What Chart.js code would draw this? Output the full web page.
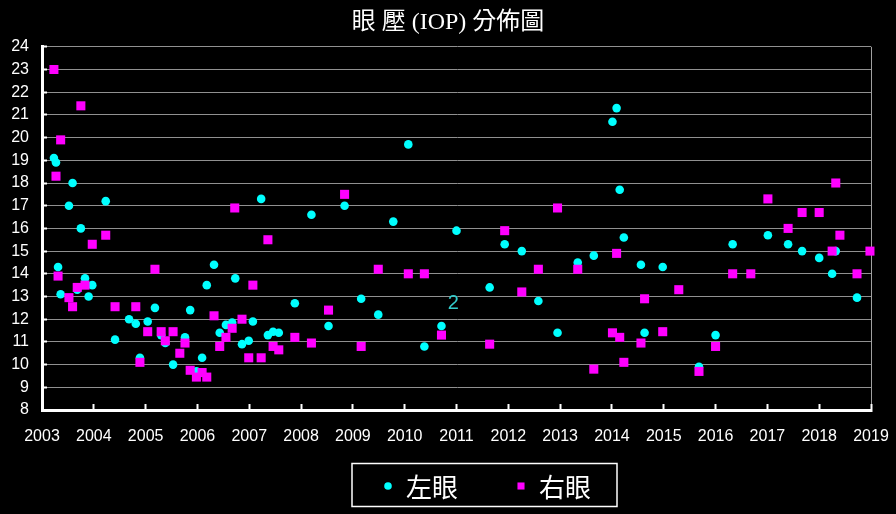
<!DOCTYPE html>
<html>
<head>
<meta charset="utf-8">
<title>眼壓 (IOP) 分佈圖</title>
<script src="https://cdn.jsdelivr.net/npm/chart.js@4"></script>
<style>
  html, body { margin: 0; padding: 0; background: #000; }
  #wrap { width: 896px; height: 514px; }
</style>
</head>
<body>
<div id="wrap"><canvas id="iopChart"></canvas></div>
<script>
// 左眼 (cyan) : fecha en años decimales y presión
const leftYears = [
  2003.23, 2003.27, 2003.31, 2003.36, 2003.52, 2003.59, 2003.68, 2003.75, 2003.83, 2003.90,
  2003.97, 2004.23, 2004.41, 2004.68, 2004.81, 2004.89, 2005.04, 2005.18, 2005.30, 2005.38,
  2005.53, 2005.76, 2005.86, 2005.98, 2006.09, 2006.18, 2006.32, 2006.43, 2006.55, 2006.67,
  2006.73, 2006.86, 2006.99, 2007.07, 2007.23, 2007.36, 2007.46, 2007.57, 2007.88, 2008.20,
  2008.53, 2008.84, 2009.16, 2009.49, 2009.78, 2010.07, 2010.38, 2010.71, 2011.00, 2011.64,
  2011.93, 2012.26, 2012.58, 2012.95, 2013.34, 2013.65, 2014.01, 2014.09, 2014.15, 2014.23,
  2014.56, 2014.63, 2014.98, 2015.68, 2016.00, 2016.33, 2017.01, 2017.40, 2017.67, 2018.00,
  2018.25, 2018.32, 2018.73
];
const leftIop = [
  19.1, 18.9, 14.3, 13.1, 17.0, 18.0, 13.3, 16.0, 13.8, 13.0,
  13.5, 17.2, 11.1, 12.0, 11.8, 10.3, 11.9, 12.5, 11.3, 10.95,
  10.0, 11.2, 12.4, 9.7, 10.3, 13.5, 14.4, 11.4, 11.75, 11.85,
  13.8, 10.9, 11.05, 11.9, 17.3, 11.3, 11.45, 11.4, 12.7, 16.6,
  11.7, 17.0, 12.9, 12.2, 16.3, 19.7, 10.8, 11.7, 15.9, 13.4,
  15.3, 15.0, 12.8, 11.4, 14.5, 14.8, 20.7, 21.3, 17.7, 15.6,
  14.4, 11.4, 14.3, 9.9, 11.3, 15.3, 15.7, 15.3, 15.0, 14.7,
  14.0, 15.0, 12.95
];

// 右眼 (magenta)
const rightYears = [
  2003.23, 2003.27, 2003.31, 2003.36, 2003.52, 2003.59, 2003.68, 2003.75, 2003.83, 2003.97,
  2004.23, 2004.41, 2004.81, 2004.89, 2005.04, 2005.18, 2005.30, 2005.38, 2005.53, 2005.66,
  2005.76, 2005.86, 2005.98, 2006.09, 2006.18, 2006.32, 2006.43, 2006.55, 2006.67, 2006.72,
  2006.86, 2006.99, 2007.07, 2007.23, 2007.36, 2007.46, 2007.57, 2007.88, 2008.20, 2008.53,
  2008.84, 2009.16, 2009.49, 2010.07, 2010.38, 2010.71, 2011.64, 2011.93, 2012.26, 2012.58,
  2012.95, 2013.34, 2013.65, 2014.01, 2014.09, 2014.15, 2014.23, 2014.56, 2014.63, 2014.98,
  2015.29, 2015.68, 2016.00, 2016.33, 2016.68, 2017.01, 2017.40, 2017.67, 2018.00, 2018.25,
  2018.32, 2018.40, 2018.73, 2018.98
];
const rightIop = [
  23.0, 18.3, 13.9, 19.9, 12.95, 12.55, 13.4, 21.4, 13.5, 15.3,
  15.7, 12.55, 12.55, 10.1, 11.45, 14.2, 11.45, 11.05, 11.45, 10.5,
  10.95, 9.75, 9.45, 9.65, 9.45, 12.15, 10.8, 11.2, 11.6, 16.9,
  12.0, 10.3, 13.5, 10.3, 15.5, 10.8, 10.65, 11.2, 10.95, 12.4,
  17.5, 10.8, 14.2, 14.0, 14.0, 11.3, 10.9, 15.9, 13.2, 14.2,
  16.9, 14.2, 9.8, 11.4, 14.9, 11.2, 10.1, 10.95, 12.9, 11.45,
  13.3, 9.7, 10.8, 14.0, 14.0, 17.3, 16.0, 16.7, 16.7, 15.0,
  18.0, 15.7, 14.0, 15.0
];

const seriesNames = ['左眼', '右眼'];
const titleText = '眼 壓 (IOP) 分佈圖';
const yearMin = 2003, yearMax = 2019;
const iopMin = 8, iopMax = 24;
// el "2" suelto que aparece dentro del gráfico
const strayLabel = { x: 2010.94, y: 12.7, text: '2' };

const tickFont = { family: '"Liberation Sans Narrow", "Liberation Sans", sans-serif', size: 16 };

// leyenda dibujada a mano: caja con borde blanco debajo del eje
const legendBox = {
  id: 'legendBox',
  afterDraw(chart) {
    const ctx = chart.ctx;
    const slots = [388, 521];
    const cy = 486;
    ctx.save();
    ctx.strokeStyle = '#fff';
    ctx.lineWidth = 1.5;
    ctx.strokeRect(352, 463.5, 265, 43);
    chart.data.datasets.forEach((ds, i) => {
      ctx.fillStyle = ds.backgroundColor;
      ctx.strokeStyle = ds.backgroundColor;
      Chart.helpers.drawPoint(ctx, {
        pointStyle: ds.pointStyle,
        radius: ds.pointStyle === 'rect' ? 5 : 3.8,
        borderWidth: 0, rotation: 0
      }, slots[i], cy);
      ctx.fillStyle = '#fff';
      ctx.font = '26px "Noto Sans CJK TC", sans-serif';
      ctx.textBaseline = 'middle';
      ctx.textAlign = 'left';
      ctx.fillText(ds.label, slots[i] + 18, cy + 1);
    });
    ctx.restore();
  }
};

const strayText = {
  id: 'strayText',
  afterDatasetsDraw(chart) {
    const { ctx, scales } = chart;
    ctx.save();
    ctx.fillStyle = '#33cccc';
    ctx.font = '20px "Liberation Sans", sans-serif';
    ctx.textAlign = 'center';
    ctx.textBaseline = 'middle';
    ctx.fillText(strayLabel.text, scales.x.getPixelForValue(strayLabel.x), scales.y.getPixelForValue(strayLabel.y));
    ctx.restore();
  }
};

const toPoints = (xs, ys) => xs.map((x, i) => ({ x, y: ys[i] }));

const ctx = document.getElementById('iopChart').getContext('2d');
new Chart(ctx, {
  type: 'scatter',
  data: {
    datasets: [{
      label: seriesNames[0],
      data: toPoints(leftYears, leftIop),
      backgroundColor: '#00ffff',
      pointStyle: 'circle',
      pointRadius: 4.3,
      pointBorderWidth: 0,
      order: 1
    }, {
      label: seriesNames[1],
      data: toPoints(rightYears, rightIop),
      backgroundColor: '#ff00ff',
      pointStyle: 'rect',
      pointRadius: 6.4,
      pointBorderWidth: 0,
      order: 0
    }]
  },
  options: {
    responsive: true,
    maintainAspectRatio: false,
    animation: false,
    clip: false,
    layout: { padding: 0 },
    plugins: {
      legend: { display: false },
      tooltip: { enabled: false },
      title: {
        display: true,
        text: titleText,
        color: '#fff',
        font: { family: '"Liberation Serif", "Noto Sans CJK TC", serif', size: 24, weight: 'normal' },
        padding: { top: 8, bottom: 10 }
      }
    },
    scales: {
      x: {
        type: 'linear',
        min: yearMin,
        max: yearMax,
        ticks: {
          stepSize: 1,
          autoSkip: false,
          maxRotation: 0,
          color: '#fff',
          font: tickFont,
          padding: 23,
          callback: v => String(v)
        },
        grid: {
          color: c => (c.tick && c.tick.value === yearMax) ? '#a0a0a0' : 'rgba(0,0,0,0)',
          tickColor: '#fff',
          tickLength: -6,
          tickWidth: 2
        },
        border: { color: '#fff', width: 3 },
        afterFit: s => { s.height = 104; s.paddingLeft = 0; s.paddingRight = 25; }
      },
      y: {
        min: iopMin,
        max: iopMax,
        ticks: { stepSize: 1, color: '#fff', font: tickFont, padding: 18 },
        grid: { color: '#909090', lineWidth: 1, tickColor: '#fff', tickLength: -5, tickWidth: 2 },
        border: { color: '#fff', width: 3 },
        afterFit: s => { s.width = 42; }
      }
    }
  },
  plugins: [strayText, legendBox]
});
</script>
</body>
</html>
